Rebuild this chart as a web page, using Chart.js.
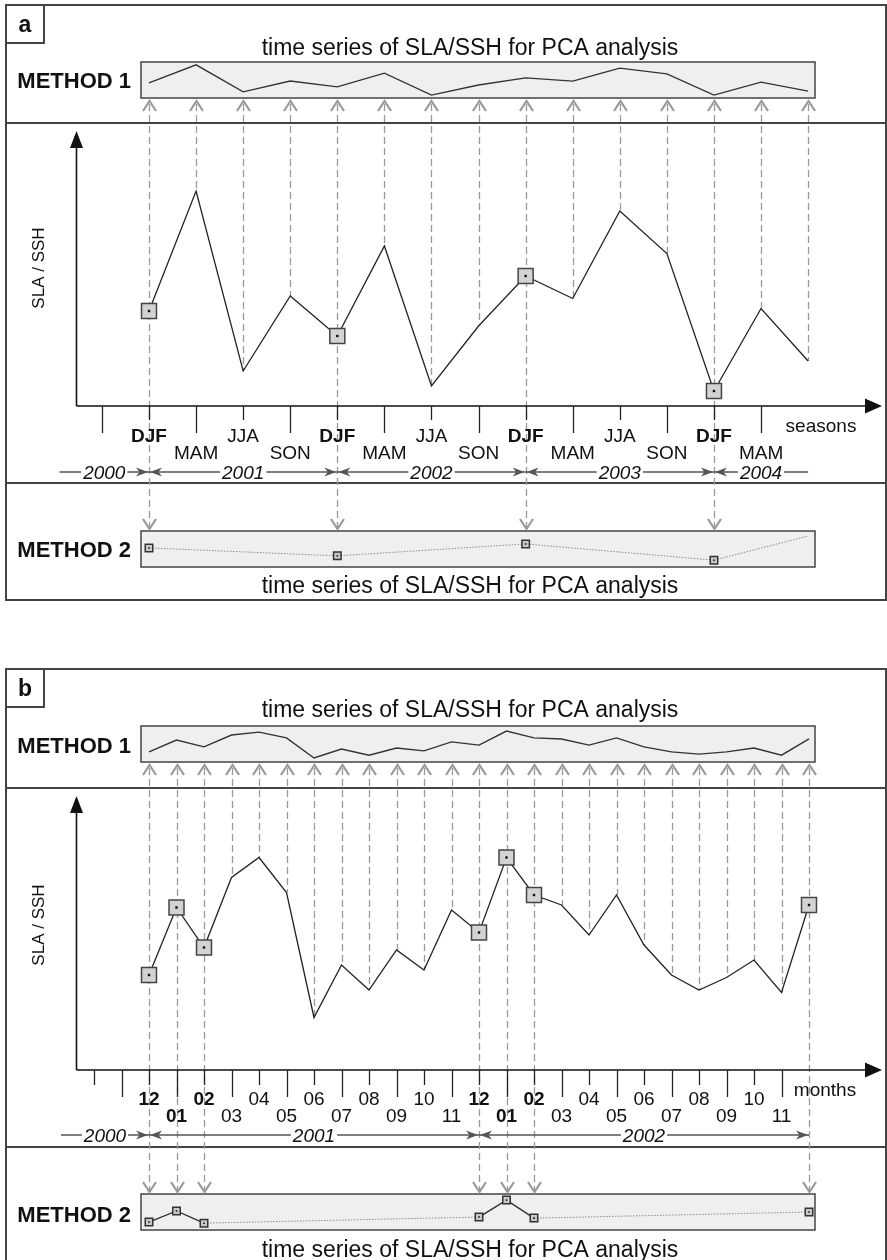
<!DOCTYPE html>
<html><head><meta charset="utf-8">
<script src="https://cdn.jsdelivr.net/npm/chart.js@4.4.1/dist/chart.umd.min.js"></script>
<style>html,body{margin:0;padding:0;background:#fff;}#wrap{position:relative;width:887px;height:1260px;}canvas{display:block;}</style>
</head><body><div id="wrap"><canvas id="c" width="887" height="1260"></canvas></div>
<script>
// ================= DATA =================
// Panel a: seasons (index 0 = DJF 2000/01)
const seasonTickLabels = ['', 'DJF','MAM','JJA','SON','DJF','MAM','JJA','SON','DJF','MAM','JJA','SON','DJF','MAM']; // ticks at index -1..13
const seasonMain    = [3.8, 8.6, 1.4, 4.4, 2.8, 6.4, 0.8, 3.2, 5.2, 4.3, 7.8, 6.1, 0.6, 3.9, 1.8];
const seasonMethod1 = [4.2, 9.2, 1.7, 4.7, 3.1, 6.9, 0.8, 3.6, 5.6, 4.7, 8.3, 6.7, 0.8, 4.4, 1.9];
const seasonSampled = [0, 4, 8, 12];
const seasonMethod2Idx = [0, 4, 8, 12, 14];
const seasonMethod2    = [5.3, 3.1, 6.4, 1.9, 8.6];
const seasonYears     = ['2000', '2001', '2002', '2003', '2004'];
const seasonYearEdges = [-1.9, 0, 4, 8, 12, 14];

// Panel b: months (index 0 = Dec 2000)
const monthTickLabels = ['', '', '12','01','02','03','04','05','06','07','08','09','10','11','12','01','02','03','04','05','06','07','08','09','10','11']; // ticks at index -2..23
const monthMain    = [3.8, 6.5, 4.9, 7.7, 8.5, 7.1, 2.1, 4.2, 3.2, 4.8, 4.0, 6.4, 5.5, 8.5, 7.0, 6.6, 5.4, 7.0, 5.0, 3.8, 3.2, 3.7, 4.4, 3.1, 6.6];
const monthMethod1 = [2.8, 6.1, 4.2, 7.5, 8.3, 6.7, 1.1, 3.6, 1.9, 3.9, 3.1, 5.6, 4.7, 8.6, 6.7, 6.4, 4.7, 6.7, 4.2, 2.8, 2.2, 2.8, 3.9, 1.9, 6.4];
const monthSampled = [0, 1, 2, 12, 13, 14, 24];
const monthMethod2Idx = [0, 1, 2, 12, 13, 14, 24];
const monthMethod2    = [2.2, 5.3, 1.9, 3.6, 8.3, 3.3, 5.0];
const monthYears     = ['2000', '2001', '2002'];
const monthYearEdges = [-3.2, 0, 12, 24];

const TITLE = 'time series of SLA/SSH for PCA analysis';

// ================= LAYOUT =================
const W = 887, H = 1260;
const X0 = 149, DXA = 47.08, DXB = 27.5;
const FONT = '"Liberation Sans", Arial, Helvetica, sans-serif';
function band(vmin, pxMin, vmax, pxMax) {
  const k = (pxMin - pxMax) / (vmax - vmin);
  return { min: vmin - (H - pxMin) / k, max: vmax + pxMax / k };
}
function yScale(b) { return { type: 'linear', axis: 'y', position: 'left', display: false, bounds: 'data', min: b.min, max: b.max }; }
function xScale(dx) { return { type: 'linear', axis: 'x', position: 'bottom', display: false, bounds: 'data', min: -X0 / dx, max: (W - X0) / dx }; }

const panels = [
  { key: 'a', x: 'xa', y: 'ya', y1: 'ya1', y2: 'ya2', top: 5, labelBase: 32, titleTop: 55, m1Base: 88, box1: [62, 98], upTip: 101,
    div1: 123, axisY: 406, yTip: 131, tickS: 420, tickL: 433, baseHi: 442, baseLo: 459, unit: 'seasons', unitX: 821, unitBase: 432,
    yearY: 472, div2: 483, downTip: 529, m2Base: 557, box2: [531, 567], titleBot: 593, ylabY: 268,
    ticks: seasonTickLabels, tickStart: -1, bold: ['DJF'], main: seasonMain, sampled: seasonSampled,
    years: seasonYears, edges: seasonYearEdges, endArrow: false, bottom: 600 },
  { key: 'b', x: 'xb', y: 'yb', y1: 'yb1', y2: 'yb2', top: 669, labelBase: 696, titleTop: 717, m1Base: 753, box1: [726, 762], upTip: 765,
    div1: 788, axisY: 1070, yTip: 796, tickS: 1085, tickL: 1097, baseHi: 1105, baseLo: 1122, unit: 'months', unitX: 825, unitBase: 1096,
    yearY: 1135, div2: 1147, downTip: 1192, m2Base: 1222, box2: [1194, 1230], titleBot: 1257, ylabY: 925,
    ticks: monthTickLabels, tickStart: -2, bold: ['12', '01', '02'], main: monthMain, sampled: monthSampled,
    years: monthYears, edges: monthYearEdges, endArrow: true, bottom: 1264 }
];

function txt(ctx, s, x, y, size, o = {}) {
  ctx.font = (o.italic ? 'italic ' : '') + (o.bold ? 'bold ' : '') + size + 'px ' + FONT;
  ctx.fillStyle = o.color || '#111';
  ctx.textAlign = o.align || 'center';
  ctx.textBaseline = 'alphabetic';
  ctx.fillText(s, x, y);
}
function head(ctx, x, y, dir) {
  ctx.beginPath();
  ctx.moveTo(x, y);
  ctx.lineTo(x - dir * 12, y - 4.5);
  ctx.lineTo(x - dir * 8.5, y);
  ctx.lineTo(x - dir * 12, y + 4.5);
  ctx.closePath();
  ctx.fillStyle = '#555';
  ctx.fill();
}

const decor = {
  id: 'decor',
  beforeDatasetsDraw(chart) {
    const ctx = chart.ctx;
    ctx.save();
    for (const P of panels) {
      const xs = chart.scales[P.x], ys = chart.scales[P.y];
      const px = i => xs.getPixelForValue(i);
      // frame + label box
      ctx.strokeStyle = '#444'; ctx.lineWidth = 2; ctx.setLineDash([]);
      ctx.strokeRect(6, P.top, 880, P.bottom - P.top);
      ctx.strokeRect(6, P.top, 38, 38);
      txt(ctx, P.key, 25, P.labelBase, 23, { bold: true });
      // dividers
      ctx.beginPath(); ctx.moveTo(6, P.div1); ctx.lineTo(886, P.div1); ctx.moveTo(6, P.div2); ctx.lineTo(886, P.div2); ctx.stroke();
      // titles & method labels
      txt(ctx, TITLE, 470, P.titleTop, 23);
      txt(ctx, TITLE, 470, P.titleBot, 23);
      txt(ctx, 'METHOD 1', 131, P.m1Base, 22, { bold: true, align: 'right' });
      txt(ctx, 'METHOD 2', 131, P.m2Base, 22, { bold: true, align: 'right' });
      // strip boxes
      for (const b of [P.box1, P.box2]) {
        ctx.fillStyle = '#efefef'; ctx.fillRect(141, b[0], 674, b[1] - b[0]);
        ctx.strokeStyle = '#444'; ctx.lineWidth = 1.5; ctx.strokeRect(141, b[0], 674, b[1] - b[0]);
      }
      // dashed connectors + arrows
      ctx.strokeStyle = '#9a9a9a'; ctx.lineWidth = 1.3; ctx.setLineDash([7, 4]);
      for (let i = 0; i < P.main.length; i++) {
        const x = Math.round(px(i)) + 0.5;
        const yEnd = P.sampled.includes(i) ? P.downTip - 2 : ys.getPixelForValue(P.main[i]);
        ctx.beginPath(); ctx.moveTo(x, P.upTip + 3); ctx.lineTo(x, yEnd); ctx.stroke();
      }
      ctx.setLineDash([]); ctx.lineWidth = 2.2; ctx.strokeStyle = '#9a9a9a'; ctx.lineJoin = 'miter';
      for (let i = 0; i < P.main.length; i++) {
        const x = Math.round(px(i)) + 0.5;
        ctx.beginPath(); ctx.moveTo(x - 6.5, P.upTip + 10); ctx.lineTo(x, P.upTip); ctx.lineTo(x + 6.5, P.upTip + 10); ctx.stroke();
        if (P.sampled.includes(i)) {
          ctx.beginPath(); ctx.moveTo(x - 6.5, P.downTip - 10); ctx.lineTo(x, P.downTip); ctx.lineTo(x + 6.5, P.downTip - 10); ctx.stroke();
        }
      }
      // axes
      const ax = 76.5, ay = ys.getPixelForValue(0);
      ctx.strokeStyle = '#111'; ctx.fillStyle = '#111'; ctx.lineWidth = 1.6;
      ctx.beginPath(); ctx.moveTo(ax, ay); ctx.lineTo(ax, P.yTip + 10); ctx.moveTo(ax, ay); ctx.lineTo(870, ay); ctx.stroke();
      ctx.beginPath(); ctx.moveTo(ax, P.yTip); ctx.lineTo(ax - 6.5, P.yTip + 17); ctx.lineTo(ax + 6.5, P.yTip + 17); ctx.closePath(); ctx.fill();
      ctx.beginPath(); ctx.moveTo(882, ay); ctx.lineTo(865, ay - 7.5); ctx.lineTo(865, ay + 7.5); ctx.closePath(); ctx.fill();
      // y label
      ctx.save(); ctx.translate(44, P.ylabY); ctx.rotate(-Math.PI / 2); txt(ctx, 'SLA / SSH', 0, 0, 17); ctx.restore();
      // ticks and tick labels
      ctx.strokeStyle = '#222'; ctx.lineWidth = 1.3;
      for (let k = 0; k < P.ticks.length; k++) {
        const i = P.tickStart + k, x = Math.round(px(i)) + 0.5, even = (i % 2 === 0);
        ctx.beginPath(); ctx.moveTo(x, ay); ctx.lineTo(x, even ? P.tickS : P.tickL); ctx.stroke();
        const lab = P.ticks[k];
        if (lab) txt(ctx, lab, px(i), even ? P.baseHi : P.baseLo, 19, { bold: P.bold.includes(lab) });
      }
      txt(ctx, P.unit, P.unitX, P.unitBase, 19);
      // year row
      ctx.strokeStyle = '#555'; ctx.lineWidth = 1.3;
      for (let s = 0; s < P.years.length; s++) {
        const e0 = px(P.edges[s]), e1 = px(P.edges[s + 1]), mid = (e0 + e1) / 2;
        ctx.beginPath(); ctx.moveTo(e0, P.yearY); ctx.lineTo(e1, P.yearY); ctx.stroke();
        if (s > 0) head(ctx, e0 + 1, P.yearY, -1);
        if (s < P.years.length - 1 || P.endArrow) head(ctx, e1 - 1, P.yearY, 1);
        ctx.font = 'italic 19px ' + FONT;
        const w = ctx.measureText(P.years[s]).width;
        ctx.fillStyle = '#fff'; ctx.fillRect(mid - w / 2 - 2, P.yearY - 9, w + 4, 18);
        txt(ctx, P.years[s], mid, P.yearY + 7, 19, { italic: true });
      }
    }
    ctx.restore();
  }
};

function pts(idx, vals) { return idx.map((i, k) => ({ x: i, y: vals[k] })); }
function seq(vals) { return vals.map((v, i) => ({ x: i, y: v })); }
const solidIfAdjacent = {
  borderColor: c => (c.p1.parsed.x - c.p0.parsed.x === 1 ? '#333' : '#8a8a8a'),
  borderDash: c => (c.p1.parsed.x - c.p0.parsed.x === 1 ? [] : [1.5, 1.5]),
  borderWidth: c => (c.p1.parsed.x - c.p0.parsed.x === 1 ? 1.4 : 1)
};
function mainSets(xid, yid, vals, sampled) {
  return [
    { data: seq(vals), xAxisID: xid, yAxisID: yid, borderColor: '#222', borderWidth: 1.3, tension: 0,
      pointStyle: 'rect', pointRadius: c => (sampled.includes(c.dataIndex) ? 10.6 : 0),
      pointBackgroundColor: '#d3d3d3', pointBorderColor: '#444', pointBorderWidth: 1.5, order: 2 },
    { data: pts(sampled, sampled.map(i => vals[i])), xAxisID: xid, yAxisID: yid, showLine: false,
      pointStyle: 'rect', pointRadius: 1.7, pointBackgroundColor: '#111', pointBorderWidth: 0, order: 1 }
  ];
}
function stripSets(xid, y1, y2, m1, idx2, m2, marked) {
  const d2 = pts(idx2, m2);
  return [
    { data: seq(m1), xAxisID: xid, yAxisID: y1, borderColor: '#333', borderWidth: 1.4, pointRadius: 0, tension: 0, order: 3 },
    { data: d2, xAxisID: xid, yAxisID: y2, borderColor: '#8a8a8a', borderWidth: 1, segment: solidIfAdjacent, tension: 0,
      pointStyle: 'rect', pointRadius: c => (marked.includes(idx2[c.dataIndex]) ? 5.3 : 0),
      pointBackgroundColor: '#c8c8c8', pointBorderColor: '#333', pointBorderWidth: 1.5, order: 2 },
    { data: d2.filter(p => marked.includes(p.x)), xAxisID: xid, yAxisID: y2, showLine: false,
      pointStyle: 'rect', pointRadius: 1.1, pointBackgroundColor: '#111', pointBorderWidth: 0, order: 1 }
  ];
}

new Chart(document.getElementById('c'), {
  type: 'line',
  data: { datasets: [
    ...mainSets('xa', 'ya', seasonMain, seasonSampled),
    ...stripSets('xa', 'ya1', 'ya2', seasonMethod1, seasonMethod2Idx, seasonMethod2, seasonSampled),
    ...mainSets('xb', 'yb', monthMain, monthSampled),
    ...stripSets('xb', 'yb1', 'yb2', monthMethod1, monthMethod2Idx, monthMethod2, monthSampled)
  ] },
  options: {
    responsive: false, animation: false, events: [],
    layout: { padding: 0, autoPadding: false },
    plugins: { legend: { display: false }, tooltip: { enabled: false }, title: { display: false } },
    scales: {
      xa: xScale(DXA), xb: xScale(DXB),
      ya: yScale(band(0, 406, 10, 156)), ya1: yScale(band(0, 98, 10, 62)), ya2: yScale(band(0, 567, 10, 531)),
      yb: yScale(band(0, 1070, 10, 820)), yb1: yScale(band(0, 762, 10, 726)), yb2: yScale(band(0, 1230, 10, 1194))
    }
  },
  plugins: [decor]
});
</script></body></html>
